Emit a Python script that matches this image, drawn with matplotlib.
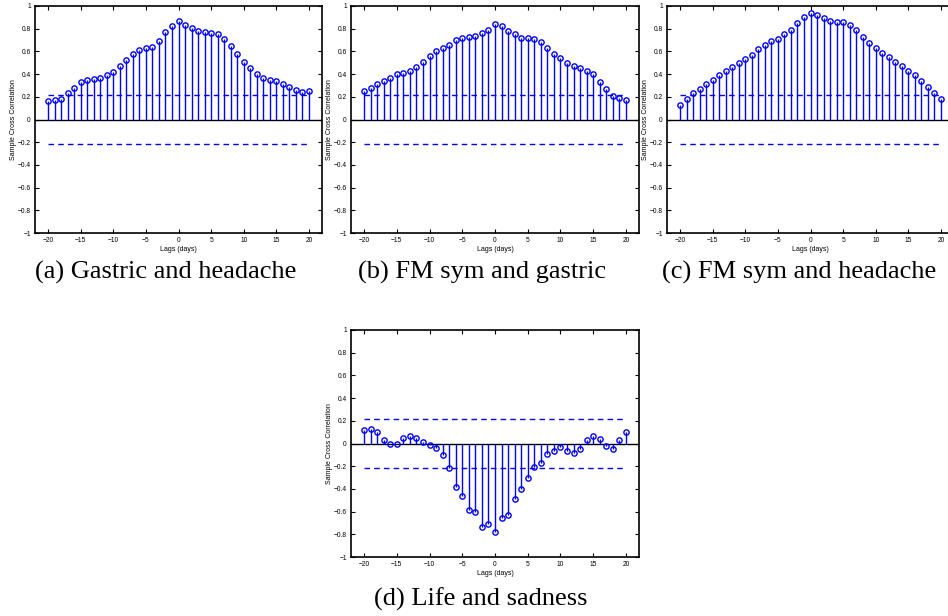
import numpy as np
import matplotlib
matplotlib.use("Agg")
import matplotlib.pyplot as plt

plt.rcParams["font.family"] = "Liberation Sans"

# cross-correlation values, lags -20..20 days
lags = np.arange(-20, 21)

gastric_headache = [0.16, 0.17, 0.18, 0.23, 0.28, 0.33, 0.35, 0.36, 0.37, 0.39, 0.42,
                    0.47, 0.52, 0.58, 0.61, 0.63, 0.64, 0.69, 0.77, 0.82, 0.87,
                    0.83, 0.81, 0.78, 0.77, 0.76, 0.75, 0.71, 0.65, 0.58, 0.51,
                    0.45, 0.40, 0.37, 0.35, 0.34, 0.31, 0.29, 0.26, 0.24, 0.25]

fm_gastric = [0.25, 0.28, 0.31, 0.34, 0.37, 0.40, 0.41, 0.43, 0.46, 0.51, 0.56,
              0.60, 0.63, 0.66, 0.70, 0.72, 0.73, 0.74, 0.76, 0.79, 0.84,
              0.82, 0.78, 0.75, 0.72, 0.72, 0.71, 0.68, 0.63, 0.58, 0.54,
              0.50, 0.47, 0.45, 0.43, 0.40, 0.33, 0.27, 0.21, 0.19, 0.17]

fm_headache = [0.13, 0.18, 0.23, 0.27, 0.31, 0.35, 0.39, 0.43, 0.46, 0.50, 0.53,
               0.57, 0.62, 0.66, 0.69, 0.71, 0.75, 0.79, 0.85, 0.90, 0.94,
               0.92, 0.89, 0.87, 0.86, 0.86, 0.83, 0.79, 0.73, 0.67, 0.63,
               0.59, 0.55, 0.51, 0.47, 0.43, 0.39, 0.34, 0.29, 0.23, 0.18]

life_sadness = [0.12, 0.13, 0.10, 0.03, 0.00, 0.00, 0.05, 0.07, 0.05, 0.01, -0.01,
                -0.04, -0.10, -0.22, -0.38, -0.46, -0.59, -0.60, -0.74, -0.71, -0.78,
                -0.66, -0.63, -0.49, -0.40, -0.30, -0.21, -0.17, -0.09, -0.07, -0.03,
                -0.07, -0.08, -0.05, 0.03, 0.07, 0.04, -0.02, -0.05, 0.03, 0.10]

bound = 0.22  # approx 95% confidence bound

captions = ["(a) Gastric and headache", "(b) FM sym and gastric",
            "(c) FM sym and headache", "(d) Life and sadness"]
series = [gastric_headache, fm_gastric, fm_headache, life_sadness]

W, H = 948, 616
# axes boxes in pixels: left, top, right, bottom
boxes = [(35, 6, 322, 233), (351, 6, 639, 233), (667, 6, 954, 233), (351, 330, 639, 557)]
# caption centre x and baseline y, in pixels
cap_pos = [(166, 279), (482, 279), (799, 279), (481, 606)]

fig = plt.figure(figsize=(W / 100, H / 100), dpi=100)

for vals, cap, (l, t, r, b), (cx, cy) in zip(series, captions, boxes, cap_pos):
    ax = fig.add_axes([l / W, 1 - b / H, (r - l) / W, (b - t) / H])
    vals = np.array(vals)
    ax.vlines(lags, 0, vals, color="#0000ff", lw=1.0, zorder=2)
    ax.plot(lags, vals, "o", ms=3.8, mfc="none", mec="#0000ff", mew=1.0, zorder=3)
    ax.axhline(0, color="black", lw=1.0, zorder=1)
    ax.plot([-20, 20], [bound, bound], "--", color="#0000ff", lw=1.0, dashes=(4, 3))
    ax.plot([-20, 20], [-bound, -bound], "--", color="#0000ff", lw=1.0, dashes=(4, 3))
    ax.set_xlim(-22, 22)
    ax.set_ylim(-1, 1)
    ax.set_xticks(np.arange(-20, 21, 5))
    ax.set_yticks(np.round(np.arange(-1, 1.01, 0.2), 1))
    ax.set_yticklabels(["\u22121", "\u22120.8", "\u22120.6", "\u22120.4", "\u22120.2",
                        "0", "0.2", "0.4", "0.6", "0.8", "1"])
    ax.set_xticklabels(["\u221220", "\u221215", "\u221210", "\u22125", "0",
                        "5", "10", "15", "20"])
    ax.tick_params(direction="in", length=3, width=0.8, top=True, right=True,
                   labelsize=4.8, pad=3)
    for s in ax.spines.values():
        s.set_linewidth(1.2)
    ax.set_xlabel("Lags (days)", fontsize=5, labelpad=1)
    ax.set_ylabel("Sample Cross Correlation", fontsize=5, labelpad=0.5)
    fig.text(cx / W, 1 - cy / H, cap, ha="center", va="baseline",
             family="Liberation Serif", fontsize=19)

fig.savefig("out.png", dpi=100)
